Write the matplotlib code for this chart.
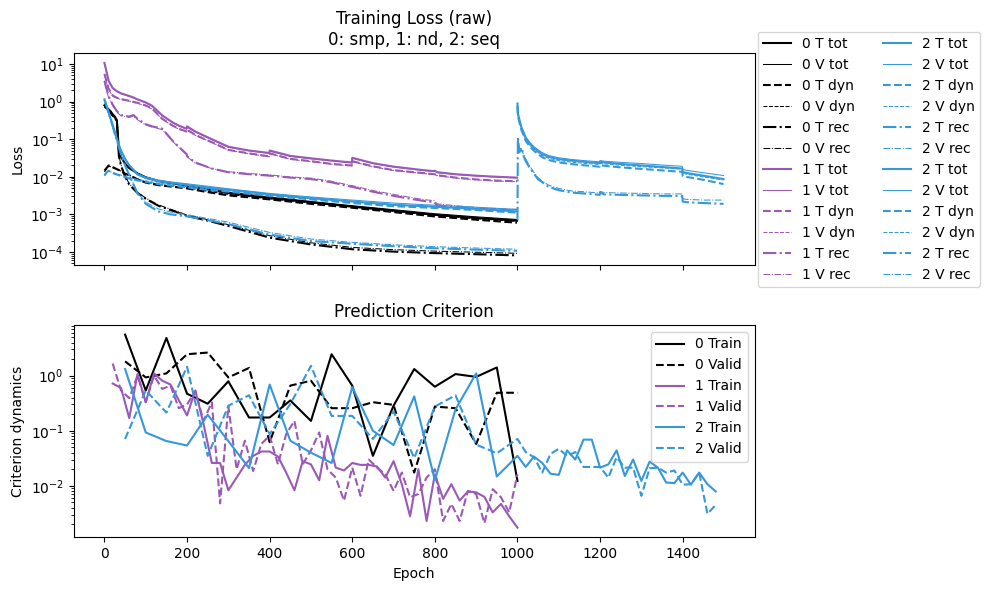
import matplotlib
matplotlib.use("Agg")
import matplotlib.pyplot as plt

# ---------------- colours ----------------
colors = ["black", "#9b59b6", "#3498db", "#3498db"]
model_ids = ["0", "1", "2", "2"]

# ---------------- Training loss (raw) ----------------
# model 0 and model 2 (phase 1) epochs
ep_0 = [0, 5, 10, 15, 20, 25, 30, 35, 40, 50, 60, 80, 100, 130, 160, 200, 250, 300, 400, 500, 600, 700, 800, 900, 999]
m0_T_tot = [0.8, 0.72, 0.62, 0.55, 0.46, 0.4, 0.32, 0.05, 0.034, 0.022, 0.017, 0.0122, 0.0096, 0.0077, 0.0068, 0.0058, 0.0046, 0.0037, 0.0027, 0.0021, 0.0016, 0.00125, 0.00097, 0.0008, 0.00068]
m0_V_tot = [0.78, 0.7, 0.6, 0.53, 0.45, 0.39, 0.31, 0.052, 0.035, 0.023, 0.0175, 0.0126, 0.0099, 0.008, 0.0071, 0.006, 0.0048, 0.0039, 0.0029, 0.0022, 0.0017, 0.00133, 0.00104, 0.00086, 0.00073]
m0_T_dyn = [0.0145, 0.017, 0.02, 0.019, 0.018, 0.017, 0.016, 0.015, 0.014, 0.012, 0.011, 0.0085, 0.007, 0.006, 0.0055, 0.0049, 0.0039, 0.0032, 0.0025, 0.0019, 0.0015, 0.00115, 0.00088, 0.00072, 0.0006]
m0_V_dyn = [0.0135, 0.016, 0.019, 0.0185, 0.0175, 0.0165, 0.0158, 0.015, 0.0142, 0.0123, 0.0113, 0.0088, 0.0073, 0.0063, 0.0057, 0.0051, 0.0041, 0.0034, 0.0026, 0.002, 0.0016, 0.00122, 0.00094, 0.00077, 0.00065]
m0_T_rec = [0.75, 0.66, 0.58, 0.5, 0.42, 0.38, 0.3, 0.035, 0.02, 0.01, 0.0062, 0.0037, 0.0026, 0.0017, 0.0013, 0.00091, 0.00068, 0.00049, 0.00024, 0.000158, 0.000118, 0.000102, 0.000093, 0.000087, 0.000081]
m0_V_rec = [0.74, 0.65, 0.57, 0.49, 0.41, 0.37, 0.29, 0.037, 0.021, 0.0105, 0.0065, 0.0039, 0.0027, 0.0018, 0.00137, 0.00096, 0.00072, 0.00053, 0.00027, 0.000175, 0.000132, 0.000115, 0.000105, 0.000098, 0.000092]

m2a_T_tot = [1.15, 0.78, 0.52, 0.35, 0.24, 0.155, 0.105, 0.07, 0.05, 0.03, 0.02, 0.0115, 0.0092, 0.0077, 0.0069, 0.0061, 0.0052, 0.0045, 0.0034, 0.0027, 0.0022, 0.0018, 0.0016, 0.0014, 0.0012]
m2a_V_tot = [1.05, 0.74, 0.5, 0.34, 0.235, 0.15, 0.1, 0.068, 0.049, 0.03, 0.021, 0.0122, 0.0098, 0.0082, 0.0073, 0.0065, 0.0056, 0.0048, 0.0036, 0.0029, 0.0024, 0.002, 0.00175, 0.00155, 0.00135]
m2a_T_dyn = [0.011, 0.013, 0.0145, 0.0135, 0.0125, 0.012, 0.0115, 0.011, 0.0105, 0.0098, 0.009, 0.008, 0.0073, 0.0064, 0.0058, 0.0052, 0.0045, 0.004, 0.0031, 0.0025, 0.002, 0.00165, 0.00148, 0.0013, 0.00111]
m2a_V_dyn = [0.0105, 0.0125, 0.014, 0.0135, 0.013, 0.0125, 0.012, 0.0115, 0.011, 0.0103, 0.0095, 0.0085, 0.0078, 0.0068, 0.0062, 0.0056, 0.0048, 0.0043, 0.0033, 0.0027, 0.0022, 0.0018, 0.0016, 0.0014, 0.0012]
m2a_T_rec = [1.1, 0.75, 0.5, 0.33, 0.22, 0.14, 0.095, 0.06, 0.04, 0.02, 0.011, 0.0036, 0.0019, 0.0012, 0.001, 0.00088, 0.0007, 0.00055, 0.00029, 0.000195, 0.000165, 0.000142, 0.000125, 0.000115, 0.000107]
m2a_V_rec = [1.0, 0.72, 0.48, 0.32, 0.21, 0.135, 0.09, 0.058, 0.039, 0.02, 0.0115, 0.0038, 0.0021, 0.0014, 0.00115, 0.00098, 0.00078, 0.00062, 0.00033, 0.00022, 0.00018, 0.000155, 0.000138, 0.000127, 0.000118]

# model 1 epochs
ep_1 = [0, 5, 10, 20, 30, 40, 60, 70, 80, 100, 115, 140, 165, 180, 199, 200, 220, 260, 300, 350, 399, 400, 450, 500, 550, 599, 600, 650, 700, 770, 799, 800, 806, 850, 900, 950, 999]
m1_T_tot = [10.7, 6.3, 3.6, 2.3, 1.9, 1.66, 1.41, 1.29, 1.15, 0.95, 0.78, 0.43, 0.28, 0.23, 0.19, 0.22, 0.16, 0.1, 0.063, 0.05, 0.043, 0.05, 0.036, 0.031, 0.027, 0.024, 0.032, 0.023, 0.0186, 0.0151, 0.0141, 0.0145, 0.0132, 0.0117, 0.0107, 0.01, 0.0095]
m1_V_tot = [10.2, 6.0, 3.5, 2.25, 1.85, 1.62, 1.38, 1.27, 1.13, 0.93, 0.76, 0.42, 0.275, 0.225, 0.186, 0.21, 0.155, 0.097, 0.061, 0.049, 0.042, 0.048, 0.035, 0.03, 0.0265, 0.0236, 0.031, 0.0226, 0.0182, 0.0148, 0.0138, 0.0142, 0.0129, 0.0115, 0.0105, 0.0098, 0.0093]
m1_T_dyn = [5.5, 3.5, 2.2, 1.45, 1.26, 1.17, 1.05, 0.98, 0.93, 0.79, 0.66, 0.35, 0.23, 0.19, 0.16, 0.18, 0.13, 0.083, 0.052, 0.042, 0.035, 0.042, 0.03, 0.026, 0.022, 0.02, 0.026, 0.019, 0.015, 0.0126, 0.0117, 0.0117, 0.011, 0.0095, 0.0085, 0.0079, 0.0076]
m1_V_dyn = [5.2, 3.3, 2.1, 1.4, 1.23, 1.14, 1.03, 0.96, 0.9, 0.77, 0.64, 0.34, 0.225, 0.185, 0.155, 0.175, 0.127, 0.081, 0.051, 0.041, 0.034, 0.041, 0.029, 0.0255, 0.0215, 0.0195, 0.025, 0.0185, 0.0147, 0.0123, 0.0114, 0.0114, 0.0107, 0.0093, 0.0083, 0.0077, 0.0074]
m1_T_rec = [3.6, 2.2, 1.4, 0.83, 0.56, 0.44, 0.4, 0.44, 0.35, 0.25, 0.22, 0.19, 0.091, 0.063, 0.04, 0.035, 0.024, 0.0166, 0.0132, 0.0117, 0.0107, 0.0107, 0.0095, 0.0087, 0.0071, 0.0054, 0.0054, 0.004, 0.0031, 0.0023, 0.0021, 0.002, 0.00174, 0.00158, 0.00141, 0.00132, 0.00126]
m1_V_rec = [3.3, 2.0, 1.3, 0.78, 0.52, 0.42, 0.38, 0.41, 0.33, 0.24, 0.21, 0.18, 0.088, 0.06, 0.039, 0.034, 0.023, 0.0165, 0.0136, 0.0122, 0.0112, 0.0112, 0.0099, 0.0092, 0.0076, 0.0058, 0.0058, 0.0043, 0.0034, 0.0025, 0.0023, 0.0022, 0.0019, 0.0017, 0.00152, 0.00142, 0.00136]

# model 2, phase 2 epochs
ep_2b = [1000, 1001, 1005, 1010, 1015, 1020, 1030, 1040, 1050, 1060, 1075, 1100, 1130, 1160, 1199, 1200, 1210, 1250, 1300, 1350, 1399, 1400, 1410, 1450, 1499]
m2b_T_tot = [0.89, 0.5, 0.32, 0.2, 0.15, 0.107, 0.076, 0.058, 0.048, 0.04, 0.034, 0.0295, 0.0269, 0.0251, 0.0229, 0.0251, 0.024, 0.0219, 0.02, 0.0182, 0.0166, 0.0135, 0.0126, 0.0107, 0.0087]
m2b_V_tot = [0.85, 0.48, 0.31, 0.2, 0.155, 0.115, 0.082, 0.063, 0.052, 0.044, 0.037, 0.032, 0.029, 0.027, 0.025, 0.027, 0.026, 0.0242, 0.0225, 0.0205, 0.019, 0.0158, 0.0148, 0.0128, 0.0108]
m2b_T_dyn = [0.75, 0.42, 0.27, 0.17, 0.125, 0.09, 0.064, 0.049, 0.04, 0.033, 0.028, 0.024, 0.0218, 0.0203, 0.0185, 0.0205, 0.0196, 0.0178, 0.0162, 0.0148, 0.0135, 0.0106, 0.0099, 0.0083, 0.0064]
m2b_V_dyn = [0.72, 0.41, 0.27, 0.175, 0.13, 0.096, 0.069, 0.053, 0.044, 0.037, 0.031, 0.027, 0.0245, 0.0228, 0.0212, 0.023, 0.022, 0.0202, 0.0186, 0.0172, 0.016, 0.0125, 0.0117, 0.0099, 0.0082]
m2b_T_rec = [0.0007, 0.11, 0.045, 0.06, 0.035, 0.026, 0.017, 0.012, 0.0085, 0.0072, 0.0054, 0.0044, 0.0038, 0.0036, 0.0033, 0.0038, 0.0034, 0.0033, 0.0032, 0.0031, 0.0031, 0.0022, 0.0021, 0.002, 0.0019]
m2b_V_rec = [0.09, 0.1, 0.06, 0.05, 0.04, 0.03, 0.019, 0.013, 0.0095, 0.0077, 0.006, 0.0049, 0.0042, 0.004, 0.0037, 0.0041, 0.0038, 0.0037, 0.0036, 0.0035, 0.0035, 0.0026, 0.0025, 0.0024, 0.0024]

loss_runs = [
    (ep_0, [m0_T_tot, m0_V_tot, m0_T_dyn, m0_V_dyn, m0_T_rec, m0_V_rec]),
    (ep_1, [m1_T_tot, m1_V_tot, m1_T_dyn, m1_V_dyn, m1_T_rec, m1_V_rec]),
    (ep_0, [m2a_T_tot, m2a_V_tot, m2a_T_dyn, m2a_V_dyn, m2a_T_rec, m2a_V_rec]),
    (ep_2b, [m2b_T_tot, m2b_V_tot, m2b_T_dyn, m2b_V_dyn, m2b_T_rec, m2b_V_rec]),
]
loss_labels = ["T tot", "V tot", "T dyn", "V dyn", "T rec", "V rec"]
loss_styles = ["-", "-", "--", "--", "-.", "-."]
loss_widths = [1.5, 0.75, 1.5, 0.75, 1.5, 0.75]

# ---------------- Prediction criterion ----------------
crit_ep_50 = list(range(50, 1001, 50))
crit_ep_20 = list(range(20, 1001, 20))
crit_ep_2b = list(range(1020, 1481, 20))

c0_train = [5.56, 0.54, 4.84, 0.47, 0.31, 0.79, 0.174, 0.174, 0.355, 0.151, 2.45, 0.66, 0.035, 0.285, 1.32, 0.63, 1.07, 0.95, 1.41, 0.0123]
c0_valid = [1.82, 0.93, 1.1, 2.45, 2.63, 0.93, 1.38, 0.062, 0.66, 0.81, 0.257, 0.257, 0.33, 0.295, 0.0174, 0.275, 0.257, 0.0575, 0.49, 0.49]
c1_train = [0.72, 0.60, 0.17, 1.07, 0.33, 1.1, 0.81, 0.69, 0.36, 0.19, 0.54, 0.132, 0.026, 0.026, 0.0083, 0.0141, 0.024, 0.035, 0.042, 0.042,
            0.034, 0.0174, 0.0083, 0.028, 0.0245, 0.0126, 0.081, 0.0214, 0.019, 0.026, 0.024, 0.024, 0.0224, 0.0141, 0.028, 0.0107, 0.0028, 0.02, 0.0023, 0.0162,
            0.0058, 0.0107, 0.0054, 0.0079, 0.0076, 0.0063, 0.0033, 0.0047, 0.0028, 0.00174]
c1_valid = [1.66, 0.54, 0.39, 1.0, 0.33, 1.0, 0.575, 0.66, 0.257, 0.30, 0.525, 0.151, 0.33, 0.0048, 0.28, 0.02, 0.066, 0.0186, 0.058, 0.081,
            0.0245, 0.087, 0.151, 0.0245, 0.044, 0.093, 0.02, 0.0141, 0.0054, 0.0214, 0.0066, 0.030, 0.0214, 0.0162, 0.0081, 0.0174, 0.0062, 0.0071, 0.0141, 0.02,
            0.0023, 0.0047, 0.0023, 0.0081, 0.0071, 0.0021, 0.0087, 0.0062, 0.0033, 0.0162]
c2_train_a = [1.32, 0.093, 0.065, 0.054, 0.195, 0.065, 0.021, 0.69, 0.066, 0.04, 0.026, 0.62, 0.1, 0.055, 0.42, 0.0126, 0.245, 1.1, 0.0148, 0.035]
c2_train_b = [0.022, 0.034, 0.026, 0.0166, 0.0158, 0.044, 0.030, 0.069, 0.069, 0.0214, 0.0245, 0.044, 0.0151, 0.030, 0.0123, 0.0275, 0.0214, 0.0115, 0.0112, 0.0174, 0.0105, 0.0174, 0.0107, 0.0079]
c2_valid_a = [0.071, 0.54, 0.214, 1.45, 0.035, 0.285, 0.44, 0.087, 0.305, 1.51, 0.186, 0.186, 0.071, 0.224, 0.032, 0.275, 0.44, 0.056, 0.039, 0.071]
c2_valid_b = [0.041, 0.033, 0.0174, 0.038, 0.047, 0.035, 0.041, 0.022, 0.022, 0.022, 0.0141, 0.033, 0.0214, 0.0214, 0.0066, 0.0209, 0.0214, 0.0174, 0.019, 0.0105, 0.0107, 0.0174, 0.0031, 0.0045]

crit_series = [
    ("0", crit_ep_50, c0_train, crit_ep_50, c0_valid),
    ("1", crit_ep_20, c1_train, crit_ep_20, c1_valid),
    ("2", crit_ep_50 + crit_ep_2b, c2_train_a + c2_train_b, crit_ep_50 + crit_ep_2b, c2_valid_a + c2_valid_b),
]
crit_colors = ["black", "#9b59b6", "#3498db"]

# ---------------- figure ----------------
W, H = 989, 590
fig = plt.figure(figsize=(W / 100, H / 100), dpi=100)
ax1 = fig.add_axes([73.5 / W, 1 - 265 / H, 681 / W, 211.7 / H])
ax2 = fig.add_axes([73.5 / W, 1 - 537.3 / H, 681 / W, 212.3 / H], sharex=ax1)

for (ep, series), col, mid in zip(loss_runs, colors, model_ids):
    for vals, lab, ls, lw in zip(series, loss_labels, loss_styles, loss_widths):
        ax1.plot(ep, vals, color=col, ls=ls, lw=lw, label=f"{mid} {lab}")
ax1.set_yscale("log")
ax1.set_ylabel("Loss")
ax1.set_title("Training Loss (raw)\n0: smp, 1: nd, 2: seq")
ax1.tick_params(labelbottom=False)
ax1.legend(ncol=2, loc="upper left", bbox_to_anchor=(757.7 / W, 1 - 31.7 / H),
           bbox_transform=fig.transFigure, borderaxespad=0)

for (mid, et, tr, ev, va), col in zip(crit_series, crit_colors):
    ax2.plot(et, tr, color=col, ls="-", label=f"{mid} Train")
    ax2.plot(ev, va, color=col, ls="--", label=f"{mid} Valid")
ax2.set_yscale("log")
ax2.set_ylabel("Criterion dynamics")
ax2.set_xlabel("Epoch")
ax2.set_title("Prediction Criterion")
ax2.set_xticks([0, 200, 400, 600, 800, 1000, 1200, 1400])
ax2.legend(loc="upper right")

fig.savefig("out.png", dpi=100)
